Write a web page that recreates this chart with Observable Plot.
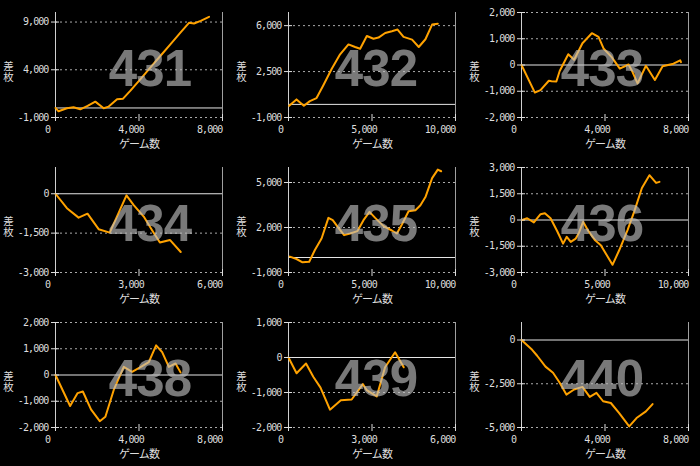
<!DOCTYPE html>
<html><head><meta charset="utf-8">
<script src="https://cdn.jsdelivr.net/npm/d3@7"></script>
<script src="https://cdn.jsdelivr.net/npm/@observablehq/plot@0.6"></script>
<style>
html,body{margin:0;padding:0;background:#000;}
#grid{display:grid;grid-template-columns:233px 233px 234px;grid-template-rows:155px 155px 156px;width:700px;height:466px;}
#grid svg{display:block;}
</style></head><body><div id="grid"></div>
<script>
// panel ids
const panels = ["431","432","433","434","435","436","438","439","440"];

// game counts (x) and coin difference (y) per panel
const games431 = [0,144,545,865,1186,1538,1907,2308,2548,2949,3237,3590,4071,4551,5032,5513,5994,6394,6635,6955,7356];
const diff431  = [0,-350,-35,70,-140,210,660,-35,140,905,975,1810,3030,4250,5470,6690,7910,8920,8850,9130,9550];
const games432 = [40,480,920,1280,1680,2080,2590,3090,3590,3990,4290,4690,5090,5390,5790,6190,6530,6890,7400,7800,8200,8600,8940];
const diff432  = [-110,380,-110,250,480,1440,2720,3810,4570,4370,4240,5210,5000,5090,5440,5570,5700,5140,4930,4370,4960,6080,6150];
const games433 = [0,640,910,1310,1440,1670,1830,2240,2520,2920,3370,3690,3930,4330,4710,5130,5320,5560,5960,6390,6760,7280,7600,7640];
const diff433  = [0,-1050,-960,-600,-620,-630,-230,410,200,830,1210,1070,630,290,-140,20,-270,-700,-30,-570,-50,50,180,110];
const games434 = [0,410,830,1150,1550,1950,2550,2810,3170,3470,3750,4110,4500];
const diff434  = [0,-550,-910,-760,-1350,-1480,-60,-430,-870,-1390,-1860,-1760,-2220];
const games435 = [80,480,840,1240,1580,1980,2390,2650,2990,3330,3690,4130,4490,4850,5190,5690,6190,6490,6790,7190,7600,7900,8200,8600,8940,9140];
const diff435  = [60,-100,-320,-280,500,1270,2640,2490,1980,1490,1600,1760,2490,3040,2640,2090,1800,1600,2200,3080,3150,3480,4030,5290,5860,5750];
const games436 = [40,340,740,1140,1400,1740,2140,2490,2710,2950,3250,3450,3690,4010,4410,4750,5450,5850,6350,6750,7210,7660,8060,8260];
const diff436  = [0,100,-140,330,390,100,-640,-1350,-960,-1250,-1060,-710,-100,-640,-1160,-1440,-2560,-1730,-580,480,1830,2560,2120,2180];
const games438 = [0,700,1060,1310,1700,2120,2390,2790,3270,3670,4070,4470,4820,5110,5430,5750,5990];
const diff438  = [0,-1180,-690,-630,-1310,-1760,-1590,-570,310,120,300,490,1130,870,310,440,100];
const games439 = [0,290,630,890,1150,1490,1880,2270,2670,2810,3170,3470,3830,4140];
const diff439  = [0,-450,-170,-550,-860,-1490,-1220,-1200,-760,-930,-1110,-280,150,-280];
const games440 = [0,510,750,1150,1510,1830,2150,2520,2920,3270,3590,3910,4280,4680,5160,5510,5960,6280];
const diff440  = [0,-560,-900,-1520,-1870,-2440,-3120,-2830,-2680,-3250,-3020,-3500,-3600,-4180,-4940,-4460,-4080,-3660];

const gamesList = [games431,games432,games433,games434,games435,games436,games438,games439,games440];
const diffList  = [diff431,diff432,diff433,diff434,diff435,diff436,diff438,diff439,diff440];

// axis domains and ticks
const xDomains = [[0,8000],[0,10000],[0,8000],[0,6000],[0,10000],[0,10000],[0,8000],[0,6000],[0,8000]];
const yDomains = [[-1000,10000],[-1000,7000],[-2000,2000],[-3000,1000],[-1000,6000],[-3000,3000],[-2000,2000],[-2000,1000],[-5000,1000]];
const xTicks = [[0,4000,8000],[0,5000,10000],[0,4000,8000],[0,3000,6000],[0,5000,10000],[0,5000,10000],[0,4000,8000],[0,3000,6000],[0,4000,8000]];
const yTicks = [[-1000,4000,9000],[-1000,2500,6000],[-2000,-1000,0,1000,2000],[-3000,-1500,0],[-1000,2000,5000],[-3000,-1500,0,1500,3000],[-2000,-1000,0,1000,2000],[-2000,-1000,0,1000],[-5000,-2500,0]];

const xTitle = "ゲーム数";
const yTitle = "差枚";

const fmt = d => d.toLocaleString("en-US");
const labelShift = [11, 4, -3];
const grid = document.getElementById("grid");

panels.forEach((p, i) => {
  const data = gamesList[i].map((g, j) => ({g, v: diffList[i][j]}));
  const col = i % 3;
  const xt = xTicks[i];
  const chart = Plot.plot({
    width: 233, height: 155,
    marginLeft: 55, marginRight: 11, marginTop: 12, marginBottom: 38,
    style: "background:#000;color:#ddd;font-family:'DejaVu Sans Mono';font-size:10px;letter-spacing:-0.9px;",
    x: {domain: xDomains[i], label: null},
    y: {domain: yDomains[i], label: null},
    marks: [
      Plot.ruleY(yTicks[i].filter(d => d !== 0), {stroke: "#aaa", strokeDasharray: "2,3"}),
      Plot.ruleY([0], {stroke: "#e6e6e6"}),
      Plot.ruleX([xDomains[i][0]], {stroke: "#d0d0d0"}),
      Plot.ruleX([xDomains[i][1]], {stroke: "#a0a0a0"}),
      Plot.line(data, {x: "g", y: "v", stroke: "#ffa200", strokeWidth: 2}),
      Plot.text([p], {text: d => d, frameAnchor: "middle", dx: labelShift[col], dy: 5,
        fontSize: 51, fontWeight: "bold", fontFamily: "Liberation Sans", fill: "#c0c0c0", fillOpacity: 0.63}),
      Plot.axisY({ticks: yTicks[i], tickSize: 8, dx: 4, tickPadding: 3, tickFormat: fmt, label: null, stroke: "#ddd"}),
      Plot.axisX({ticks: xt, tickSize: 7, dy: -3, tickFormat: () => "", label: null, stroke: "#ddd"}),
      Plot.text(xt.slice(0, -1), {x: d => d, text: fmt, frameAnchor: "bottom", dy: 15, dx: -8}),
      Plot.text(xt.slice(-1), {x: d => d, text: fmt, frameAnchor: "bottom", dy: 15, textAnchor: "end"}),
      Plot.text([xTitle], {text: d => d, frameAnchor: "bottom", dy: 30, fontFamily: "Noto Sans CJK JP", fontSize: 11}),
      Plot.text([yTitle], {text: d => d, frameAnchor: "left", dx: -47, dy: 3, textAnchor: "middle", fontFamily: "Noto Sans CJK JP", fontSize: 10.5})
    ]
  });
  d3.select(chart).selectAll("text")
    .filter(function() { return this.textContent === yTitle; })
    .attr("writing-mode", "vertical-rl")
    .attr("dy", null)
    .style("letter-spacing", "0px");
  grid.appendChild(chart);
});
</script>
</body></html>
